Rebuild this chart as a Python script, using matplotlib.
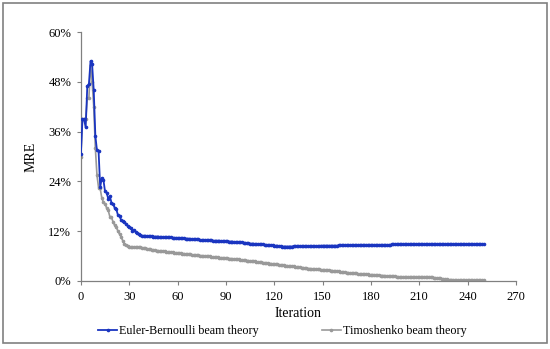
import numpy as np
import matplotlib.pyplot as plt
from matplotlib.patches import Rectangle
from matplotlib.ticker import FuncFormatter

# MRE (%) per iteration, 0..250
euler_mre = [
    30.5, 39.0, 39.0, 37.0, 47.0, 47.5, 53.0, 52.2, 46.0, 35.0,
    31.5, 31.3, 22.6, 24.8, 24.4, 21.6, 21.3, 19.8, 20.4, 18.9,
    18.6, 17.6, 17.3, 15.9, 15.6, 14.7, 14.4, 14.2, 13.7, 13.3,
    12.9, 12.7, 12.1, 12.3, 11.8, 11.5, 11.2, 11.0, 10.9, 10.9,
    10.9, 10.8, 10.8, 10.8, 10.8, 10.7, 10.7, 10.7, 10.7, 10.6,
    10.6, 10.6, 10.6, 10.5, 10.5, 10.5, 10.5, 10.4, 10.4, 10.4,
    10.4, 10.3, 10.3, 10.3, 10.3, 10.2, 10.2, 10.2, 10.1, 10.1,
    10.1, 10.0, 10.0, 10.0, 9.9, 9.9, 9.9, 9.9, 9.8, 9.8,
    9.8, 9.8, 9.7, 9.7, 9.7, 9.7, 9.7, 9.6, 9.6, 9.6,
    9.6, 9.6, 9.5, 9.5, 9.5, 9.4, 9.4, 9.4, 9.3, 9.3,
    9.3, 9.2, 9.2, 9.1, 9.1, 9.0, 9.0, 9.0, 8.9, 8.9,
    8.9, 8.8, 8.8, 8.8, 8.7, 8.7, 8.7, 8.6, 8.6, 8.6,
    8.5, 8.5, 8.5, 8.4, 8.4, 8.3, 8.3, 8.3, 8.3, 8.3,
    8.3, 8.3, 8.4, 8.4, 8.4, 8.4, 8.4, 8.4, 8.4, 8.4,
    8.4, 8.4, 8.4, 8.4, 8.4, 8.4, 8.4, 8.4, 8.4, 8.5,
    8.5, 8.5, 8.5, 8.5, 8.5, 8.5, 8.5, 8.5, 8.5, 8.5,
    8.6, 8.6, 8.6, 8.6, 8.6, 8.6, 8.6, 8.6, 8.6, 8.6,
    8.6, 8.6, 8.7, 8.7, 8.7, 8.7, 8.7, 8.7, 8.7, 8.7,
    8.7, 8.7, 8.7, 8.7, 8.7, 8.7, 8.7, 8.7, 8.7, 8.7,
    8.7, 8.7, 8.7, 8.8, 8.8, 8.8, 8.8, 8.8, 8.8, 8.8,
    8.8, 8.8, 8.8, 8.8, 8.8, 8.8, 8.8, 8.8, 8.8, 8.8,
    8.8, 8.8, 8.8, 8.8, 8.8, 8.8, 8.8, 8.8, 8.8, 8.8,
    8.8, 8.8, 8.8, 8.8, 8.8, 8.8, 8.8, 8.8, 8.8, 8.8,
    8.8, 8.8, 8.8, 8.8, 8.8, 8.8, 8.8, 8.8, 8.8, 8.8,
    8.8, 8.8, 8.8, 8.8, 8.8, 8.8, 8.8, 8.8, 8.8, 8.8,
    8.8,
]

timoshenko_mre = [
    30.0, 39.0, 39.0, 39.0, 44.0, 44.2, 52.0, 48.0, 42.0, 32.0,
    25.5, 22.5, 22.3, 20.0, 19.0, 18.6, 17.6, 17.0, 15.5, 15.4,
    14.2, 13.4, 13.0, 12.0, 11.3, 10.6, 9.7, 9.0, 8.7, 8.5,
    8.3, 8.2, 8.1, 8.1, 8.1, 8.1, 8.1, 8.1, 8.0, 8.0,
    7.9, 7.8, 7.7, 7.6, 7.5, 7.4, 7.4, 7.3, 7.3, 7.2,
    7.2, 7.1, 7.1, 7.0, 7.0, 7.0, 6.9, 6.9, 6.8, 6.8,
    6.8, 6.7, 6.7, 6.6, 6.6, 6.5, 6.5, 6.4, 6.4, 6.3,
    6.3, 6.2, 6.2, 6.2, 6.1, 6.1, 6.0, 6.0, 5.9, 5.9,
    5.9, 5.8, 5.8, 5.7, 5.7, 5.7, 5.6, 5.6, 5.6, 5.5,
    5.5, 5.5, 5.4, 5.4, 5.3, 5.3, 5.3, 5.2, 5.2, 5.1,
    5.1, 5.0, 5.0, 4.9, 4.9, 4.8, 4.8, 4.7, 4.7, 4.6,
    4.6, 4.5, 4.5, 4.4, 4.4, 4.3, 4.3, 4.2, 4.2, 4.1,
    4.1, 4.0, 4.0, 3.9, 3.9, 3.8, 3.8, 3.7, 3.7, 3.6,
    3.6, 3.5, 3.5, 3.4, 3.4, 3.3, 3.3, 3.2, 3.2, 3.1,
    3.1, 3.0, 3.0, 2.9, 2.9, 2.9, 2.8, 2.8, 2.8, 2.7,
    2.7, 2.7, 2.6, 2.6, 2.6, 2.5, 2.5, 2.4, 2.4, 2.3,
    2.3, 2.2, 2.2, 2.1, 2.1, 2.0, 2.0, 1.9, 1.9, 1.8,
    1.8, 1.8, 1.7, 1.7, 1.7, 1.6, 1.6, 1.6, 1.6, 1.5,
    1.5, 1.5, 1.5, 1.4, 1.4, 1.4, 1.3, 1.3, 1.3, 1.2,
    1.2, 1.2, 1.1, 1.1, 1.1, 1.1, 1.0, 1.0, 1.0, 1.0,
    1.0, 1.0, 1.0, 1.0, 1.0, 1.0, 1.0, 1.0, 1.0, 1.0,
    1.0, 1.0, 1.0, 1.0, 1.0, 1.0, 1.0, 1.0, 0.9, 0.8,
    0.7, 0.7, 0.6, 0.6, 0.5, 0.5, 0.4, 0.4, 0.3, 0.3,
    0.3, 0.3, 0.2, 0.2, 0.2, 0.2, 0.2, 0.2, 0.2, 0.2,
    0.2, 0.2, 0.2, 0.2, 0.2, 0.2, 0.2, 0.2, 0.2, 0.2,
    0.2,
]

iterations = np.arange(len(euler_mre))
x_ticks = [0, 30, 60, 90, 120, 150, 180, 210, 240, 270]
y_ticks = [0, 12, 24, 36, 48, 60]

plt.rcParams["font.family"] = ["Liberation Serif", "DejaVu Serif"]

fig = plt.figure(figsize=(5.5, 3.49), dpi=100)
ax = fig.add_axes([0.147, 0.195, 0.791, 0.713])

ax.plot(iterations, euler_mre, color="#1a35c0", lw=1.3, marker="o",
        ms=1.6, label="Euler-Bernoulli beam theory", zorder=3)
ax.plot(iterations, timoshenko_mre, color="#999999", lw=1.2, marker="o",
        ms=1.6, label="Timoshenko beam theory", zorder=2)

ax.set_xlim(0, 270)
ax.set_ylim(0, 60)
ax.set_xticks(x_ticks)
ax.set_yticks(y_ticks)
ax.yaxis.set_major_formatter(FuncFormatter(lambda v, _: f"{v:.0f}%"))
ax.tick_params(labelsize=9, length=3, width=0.8, color="#808080", pad=4)
ax.set_xlabel("Iteration", fontsize=10, labelpad=3)
ax.set_ylabel("MRE", fontsize=10, labelpad=8)

for side in ["top", "right"]:
    ax.spines[side].set_visible(False)
for side in ["left", "bottom"]:
    ax.spines[side].set_color("#808080")
    ax.spines[side].set_linewidth(0.9)

fig.legend(loc="center", bbox_to_anchor=(0.513, 0.052), ncol=2, frameon=False,
           fontsize=8.7, handlelength=1.6, handletextpad=0.15, columnspacing=5.2,
           borderpad=0)

# outer frame around the whole chart
fig.patches.append(Rectangle((0.006, 0.017), 0.988, 0.975, transform=fig.transFigure,
                             fill=False, edgecolor="#808080", lw=1.2))

fig.savefig("out.png", dpi=100)
